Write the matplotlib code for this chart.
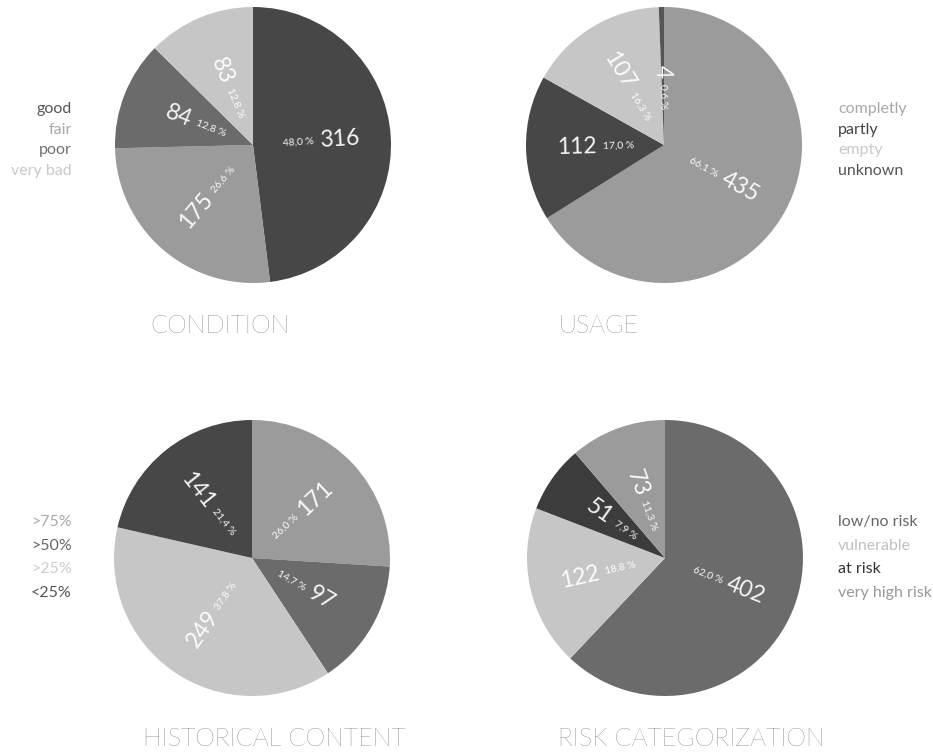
import matplotlib.pyplot as plt
import numpy as np

plt.rcParams["font.family"] = ["Lato", "DejaVu Sans"]

# --- data -------------------------------------------------------------
cond_labels = ["good", "fair", "poor", "very bad"]
cond_values = [316, 175, 84, 83]
cond_pct = ["48,0 %", "26,6 %", "12,8 %", "12,8 %"]

usage_labels = ["completly", "partly", "empty", "unknown"]
usage_values = [435, 112, 107, 4]
usage_pct = ["66,1 %", "17,0 %", "16,3 %", "0,6 %"]

hist_labels = [">75%", ">50%", ">25%", "<25%"]
hist_values = [171, 97, 249, 141]
hist_pct = ["26,0 %", "14,7 %", "37,8 %", "21,4 %"]

risk_labels = ["low/no risk", "vulnerable", "at risk", "very high risk"]
risk_values = [402, 122, 51, 73]
risk_pct = ["62,0 %", "18,8 %", "7,9 %", "11,3 %"]

# --- style ------------------------------------------------------------
DARK, MIDDARK, MID, LIGHT = "#474747", "#6b6b6b", "#9b9b9b", "#c6c6c6"
TITLE_C = "#404040"

charts = [
    dict(title="CONDITION", labels=cond_labels, values=cond_values, pct=cond_pct,
         colors=[DARK, MID, MIDDARK, LIGHT],
         legend_c=["#555555", "#a8a8a8", "#707070", "#c8c8c8"],
         center=(253, 145), legend=(72, "right"), title_x=150, ly0=109, ldy=20.7),
    dict(title="USAGE", labels=usage_labels, values=usage_values, pct=usage_pct,
         colors=[MID, DARK, LIGHT, "#555555"],
         legend_c=["#a8a8a8", "#444444", "#c8c8c8", "#555555"],
         center=(664, 145), legend=(838, "left"), title_x=558, ly0=109, ldy=20.7),
    dict(title="HISTORICAL CONTENT", labels=hist_labels, values=hist_values, pct=hist_pct,
         colors=[MID, MIDDARK, LIGHT, DARK],
         legend_c=["#a8a8a8", "#666666", "#cccccc", "#555555"],
         center=(252, 558), legend=(72, "right"), title_x=143, ly0=522, ldy=23.7),
    dict(title="RISK CATEGORIZATION", labels=risk_labels, values=risk_values, pct=risk_pct,
         colors=[MIDDARK, LIGHT, "#3c3c3c", MID],
         legend_c=["#666666", "#c0c0c0", "#333333", "#999999"],
         center=(665, 558), legend=(838, "left"), title_x=558, ly0=522, ldy=23.7),
]

W, H = 933, 753
R = 138
fig = plt.figure(figsize=(W / 100, H / 100), dpi=100)
ax = fig.add_axes([0, 0, 1, 1])

for c in charts:
    cx, cy = c["center"][0], H - c["center"][1]
    wedges, _ = ax.pie(c["values"], colors=c["colors"], startangle=90,
                       counterclock=False, center=(cx, cy), radius=R,
                       wedgeprops=dict(linewidth=0))
    for w, v, p in zip(wedges, c["values"], c["pct"]):
        th = (w.theta1 + w.theta2) / 2
        a = np.deg2rad(th)
        ux, uy = np.cos(a), np.sin(a)
        right = ux >= -1e-6
        rot = th if right else th - 180
        r_num, r_pct = 0.485 * R, 0.445 * R
        ax.text(cx + r_num * ux, cy + r_num * uy, str(v), color="white",
                fontsize=16.5, rotation=rot, rotation_mode="anchor",
                ha="left" if right else "right", va="center", alpha=0.95)
        ax.text(cx + r_pct * ux, cy + r_pct * uy, p, color="white",
                fontsize=7.5, rotation=rot, rotation_mode="anchor",
                ha="right" if right else "left", va="center", alpha=0.95)

    # legend
    lx, ha = c["legend"]
    for i, (lab, col) in enumerate(zip(c["labels"], c["legend_c"])):
        ax.text(lx, H - (c["ly0"] + i * c["ldy"]), lab, color=col,
                fontsize=11.5, ha=ha, va="center")

    # title
    ax.text(c["title_x"], H - c["center"][1] - 188, c["title"], color=TITLE_C,
            fontsize=18, fontweight="light", ha="left", va="baseline")

ax.set_xlim(0, W)
ax.set_ylim(0, H)
ax.set_aspect("equal")
ax.axis("off")

fig.savefig("out.png", dpi=100, facecolor="white")
